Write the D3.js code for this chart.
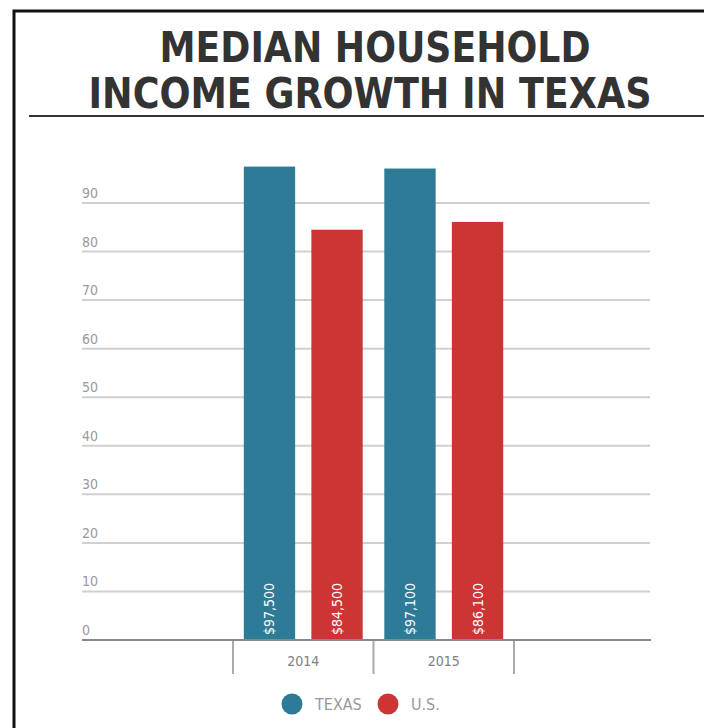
<!DOCTYPE html>
<html lang="en">
<head>
  <meta charset="UTF-8">
  <title>Median household income growth in Texas</title>
  <script src="https://d3js.org/d3.v7.min.js"></script>
  <style>
    body { margin: 0; background: #fff; }
    svg { display: block; }
    text { font-family: "Liberation Sans Narrow", "DejaVu Sans Condensed", "Roboto Condensed", sans-serif; }
  </style>
</head>
<body>
  <svg></svg>
  <script>
    const years = ["2014", "2015"];
    const series = ["TEXAS", "U.S."];
    const texasValues = [97.5, 97.1];
    const usValues = [84.5, 86.1];
    const valueLabels = [["$97,500", "$84,500"], ["$97,100", "$86,100"]];
    const yTicks = [0, 10, 20, 30, 40, 50, 60, 70, 80, 90];
    const colors = { "TEXAS": "#2e7b98", "U.S.": "#cc3534" };

    const width = 704, height = 728;
    const svg = d3.select("svg").attr("width", width).attr("height", height);

    // frame
    svg.append("path")
      .attr("d", `M14,${height} V11 H${width}`)
      .attr("fill", "none")
      .attr("stroke", "#111")
      .attr("stroke-width", 3);

    // title
    const title = svg.append("g").attr("fill", "#333").attr("font-weight", "bold")
      .attr("text-anchor", "middle").style("font-size", "42px");
    title.append("text").attr("x", 375).attr("y", 62)
      .attr("textLength", 431).attr("lengthAdjust", "spacingAndGlyphs")
      .text("MEDIAN HOUSEHOLD");
    title.append("text").attr("x", 370).attr("y", 108)
      .attr("textLength", 563).attr("lengthAdjust", "spacingAndGlyphs")
      .text("INCOME GROWTH IN TEXAS");
    svg.append("line")
      .attr("x1", 29).attr("x2", width).attr("y1", 116).attr("y2", 116)
      .attr("stroke", "#333").attr("stroke-width", 2);

    // scales
    const y = d3.scaleLinear().domain([0, 90]).range([640, 203]);
    const x = d3.scaleBand().domain(years).range([233, 514]);
    const xs = d3.scaleBand().domain(series).range([0, x.bandwidth()])
      .paddingInner(0.24).paddingOuter(0.16);

    const plotLeft = 82, plotRight = 650;

    // grid
    const grid = svg.append("g");
    grid.selectAll("line").data(yTicks.filter(d => d > 0)).join("line")
      .attr("x1", plotLeft).attr("x2", plotRight)
      .attr("y1", d => y(d)).attr("y2", d => y(d))
      .attr("stroke", "#d0d0d0").attr("stroke-width", 2);
    grid.selectAll("text").data(yTicks).join("text")
      .attr("x", plotLeft).attr("y", d => y(d) - 5)
      .attr("fill", "#999").style("font-size", "14px")
      .text(d => d);

    // bars
    const rows = years.map((yr, i) => ({ year: yr, values: [texasValues[i], usValues[i]], labels: valueLabels[i] }));
    const group = svg.append("g").selectAll("g").data(rows).join("g")
      .attr("transform", d => `translate(${x(d.year)},0)`);
    const bar = group.selectAll("g").data(d => series.map((s, j) => ({ s, v: d.values[j], label: d.labels[j] })))
      .join("g");
    bar.append("rect")
      .attr("x", d => xs(d.s)).attr("width", xs.bandwidth())
      .attr("y", d => y(d.v)).attr("height", d => y(0) - y(d.v))
      .attr("fill", d => colors[d.s]);
    bar.append("text")
      .attr("transform", d => `translate(${xs(d.s) + xs.bandwidth() / 2 + 5},${y(0) - 5}) rotate(-90)`)
      .attr("fill", "#fff").style("font-size", "14px")
      .text(d => d.label);

    // x axis
    svg.append("line")
      .attr("x1", plotLeft).attr("x2", plotRight + 1).attr("y1", 640).attr("y2", 640)
      .attr("stroke", "#888").attr("stroke-width", 2);
    const edges = [...years.map(d => x(d)), x(years[years.length - 1]) + x.bandwidth()];
    svg.append("g").selectAll("line").data(edges).join("line")
      .attr("x1", d => d).attr("x2", d => d).attr("y1", 641).attr("y2", 674)
      .attr("stroke", "#aaa").attr("stroke-width", 2);
    svg.append("g").selectAll("text").data(years).join("text")
      .attr("x", d => x(d) + x.bandwidth() / 2).attr("y", 666)
      .attr("text-anchor", "middle").attr("fill", "#808080").style("font-size", "14px")
      .text(d => d);

    // legend
    const legend = svg.append("g").selectAll("g").data(series).join("g")
      .attr("transform", (d, i) => `translate(${i === 0 ? 292 : 388},704)`);
    legend.append("circle").attr("r", 10.5).attr("fill", d => colors[d]);
    legend.append("text").attr("x", 23).attr("y", 6)
      .attr("fill", "#999").style("font-size", "16px")
      .text(d => d);
  </script>
</body>
</html>
